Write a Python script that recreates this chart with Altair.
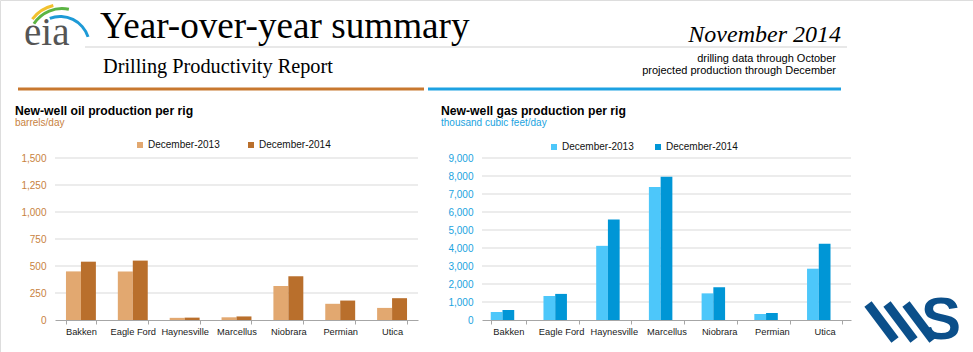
import altair as alt
import pandas as pd

basins = ["Bakken", "Eagle Ford", "Haynesville", "Marcellus", "Niobrara", "Permian", "Utica"]
periods = ["December-2013", "December-2014"]
oil_2013 = [450, 450, 20, 25, 315, 150, 112]
oil_2014 = [540, 550, 22, 33, 405, 180, 202]
gas_2013 = [445, 1335, 4120, 7390, 1480, 335, 2850]
gas_2014 = [560, 1450, 5590, 7960, 1820, 390, 4230]
oil_ticks = [0, 250, 500, 750, 1000, 1250, 1500]
gas_ticks = [0, 1000, 2000, 3000, 4000, 5000, 6000, 7000, 8000, 9000]

oil_df = pd.DataFrame({"basin": basins * 2,
                       "period": [p for p in periods for _ in basins],
                       "value": oil_2013 + oil_2014})
gas_df = pd.DataFrame({"basin": basins * 2,
                       "period": [p for p in periods for _ in basins],
                       "value": gas_2013 + gas_2014})

SANS = "Liberation Sans"
SERIF = "Liberation Serif"
one = pd.DataFrame({"a": [0]})


def txt(text, x, y, size, color="#000000", font=SANS, align="left", weight="normal", style="normal"):
    return alt.Chart(one).mark_text(text=text, align=align, baseline="alphabetic", fontSize=size,
                                    font=font, color=color, fontWeight=weight, fontStyle=style).encode(
        x=alt.value(x), y=alt.value(y))


def hline(x1, x2, y, color, w):
    return alt.Chart(one).mark_rule(color=color, strokeWidth=w).encode(
        x=alt.value(x1), x2=alt.value(x2), y=alt.value(y))


def seg(x1, y1, x2, y2, color, w):
    return alt.Chart(one).mark_rule(color=color, strokeWidth=w, strokeCap="butt").encode(
        x=alt.value(x1), y=alt.value(y1), x2=alt.value(x2), y2=alt.value(y2))


def arc(cx, cy, r1, r2, t1, t2, color):
    return alt.Chart(one).mark_arc(radius=r1, radius2=r2, theta=t1, theta2=t2, color=color).encode(
        x=alt.value(cx), y=alt.value(cy))


def panel(df, ticks, ymax, xrange, pad_inner, offset_domain, colors, axis_color, unit, title_x,
          title, legend_x, legend_y, col_pad, yoff):
    xscale = alt.Scale(domain=basins, range=xrange, paddingInner=pad_inner, paddingOuter=pad_inner / 2)
    yscale = alt.Scale(domain=[0, ymax], range=[320, 158], nice=False, zero=True)
    yaxis = alt.Axis(title=None, orient="left", offset=yoff, values=ticks,
                     labelExpr="format(datum.value, ',')",
                     labelFontSize=10, labelColor=axis_color, domain=False, ticks=False,
                     grid=False, labelPadding=9, labelFont=SANS)
    bars = alt.Chart(df).mark_bar().encode(
        x=alt.X("basin:N", sort=basins, scale=xscale,
                axis=alt.Axis(title=None, orient="bottom", offset=-32, labelAngle=0, labelFontSize=9.3,
                              labelColor="#1A1A1A", domainColor="#A6A6A6", tickColor="#A6A6A6",
                              tickSize=4, tickBand="extent", labelPadding=3, grid=False, labelFont=SANS)),
        xOffset=alt.XOffset("period:N", scale=alt.Scale(domain=offset_domain, paddingInner=0, paddingOuter=0)),
        y=alt.Y("value:Q", scale=yscale, axis=yaxis),
        color=alt.Color("period:N", scale=alt.Scale(domain=periods, range=colors),
                        legend=alt.Legend(orient="none", legendX=legend_x, legendY=legend_y,
                                          direction="horizontal", title=None, symbolType="square",
                                          symbolSize=36, labelFontSize=10, labelColor="#111111",
                                          columnPadding=col_pad, labelOffset=3, padding=0,
                                          symbolStrokeWidth=0, labelFont=SANS))
    )
    grid = alt.Chart(pd.DataFrame({"value": ticks[1:]})).mark_rule(
        color="#D9D9D9", strokeWidth=1).encode(
        y=alt.Y("value:Q", scale=yscale, axis=yaxis),
        x=alt.value(xrange[0]), x2=alt.value(xrange[1]))
    heads = [txt(title, title_x, 115, 12.2, "#000000", weight="bold"),
             txt(unit[0], title_x, 126, 10, unit[1])]
    return alt.layer(grid, bars), heads


oil_panel, oil_heads = panel(oil_df, oil_ticks, 1500, [55, 418], 0.423, periods,
                             ["#E2A870", "#B96F2C"], "#C8823E", ("barrels/day", "#C8823E"), 15,
                             "New-well oil production per rig", 135, 140, 26, -55)
gas_panel, gas_heads = panel(gas_df, gas_ticks, 9000, [482, 851], 0.332, periods + ["(none)"],
                             ["#4DC7FA", "#0096D6"], "#1AA3E0", ("thousand cubic feet/day", "#1AA3E0"), 441,
                             "New-well gas production per rig", 549, 142, 19, -482)

header = [
    # eia logo
    arc(62, 42, 36, 39, 5.37, 6.05, "#F2C12E"),
    arc(62, 42, 32, 35, 5.29, 6.49, "#5BB443"),
    arc(60, 46, 28, 31, 5.93, 7.54, "#1D9AD6"),
    txt("eia", 24, 45, 39, "#555555", font=SERIF),
    txt("Year-over-year summary", 100, 38, 37.2, "#000000", font=SERIF),
    hline(85, 847, 47, "#E8E8E8", 2),
    txt("Drilling Productivity Report", 103, 73, 20.3, "#000000", font=SERIF),
    txt("November 2014", 841, 42, 24, "#000000", font=SERIF, align="right", style="italic"),
    txt("drilling data through October", 836, 62, 11, "#000000", align="right"),
    txt("projected production through December", 836, 74, 11, "#000000", align="right"),
    hline(18, 424, 89, "#C8782F", 3),
    hline(428, 841, 89, "#1DA1E2", 3),
    # WS logo
    seg(868, 304, 895, 340, "#0B4F8A", 9),
    seg(887, 304, 914, 340, "#0B4F8A", 9),
    seg(906, 304, 933, 340, "#0B4F8A", 9),
    txt("S", 941, 339, 60, "#0B4F8A", align="center", weight="bold"),
]

chart = alt.layer(*header, *oil_heads, *gas_heads, oil_panel, gas_panel).resolve_scale(
    x="independent", y="independent", color="independent", xOffset="independent"
).properties(
    width=973, height=352, padding=0, autosize=alt.AutoSizeParams(type="none")
).configure_view(stroke=None).configure(font=SANS)

chart.save("out.html", embed_options={"renderer": "svg", "actions": False})
